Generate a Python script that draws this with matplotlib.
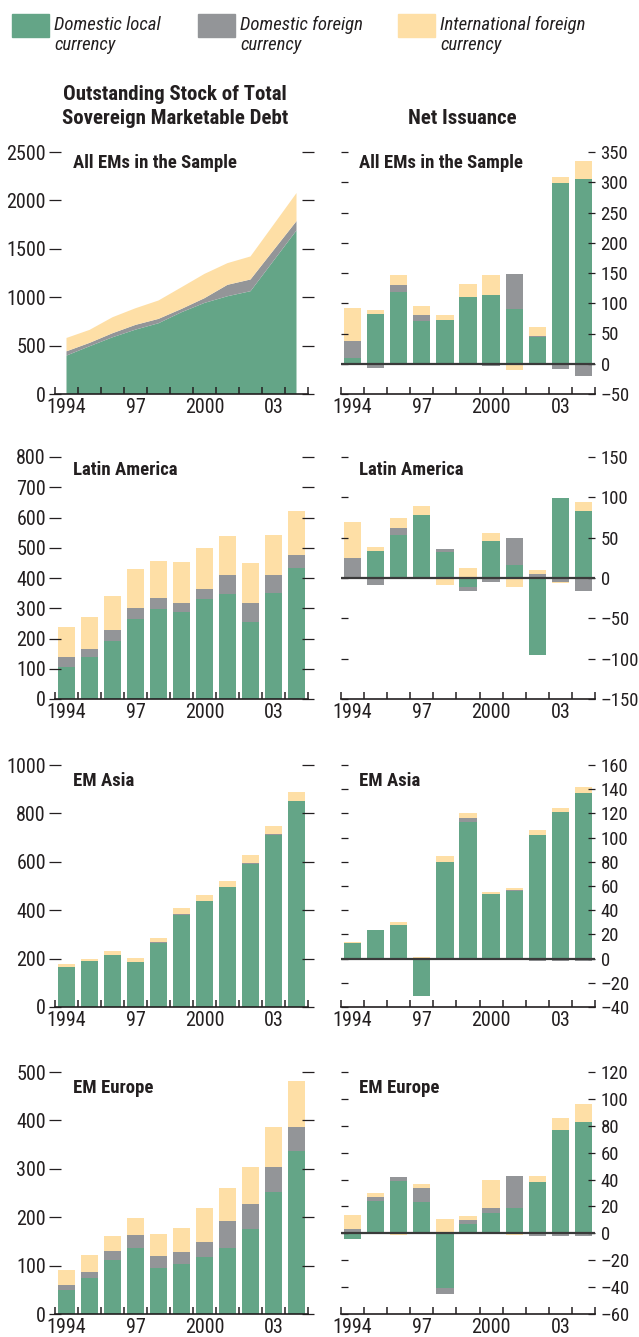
import matplotlib
matplotlib.use("Agg")
import matplotlib.pyplot as plt
from matplotlib import font_manager
from matplotlib.patches import Rectangle
from matplotlib.ticker import FuncFormatter
import numpy as np

# pick a narrow sans if one is around, otherwise a plain Arial-like one
font_names = {(f.name, f.stretch) for f in font_manager.fontManager.ttflist}
names_only = {n for n, _ in font_names}
narrow = None
for cand in ["Liberation Sans Narrow", "Roboto Condensed", "DejaVu Sans Condensed",
             "Open Sans Condensed"]:
    if cand in names_only:
        narrow = cand
        break
if narrow is None:
    for n, st in font_names:
        if st in ("condensed", "semi-condensed", 87.5, 75) and n in (
                "DejaVu Sans", "Liberation Sans", "Noto Sans", "Open Sans"):
            narrow = n
            break
if narrow is not None:
    plt.rcParams["font.family"] = [narrow, "DejaVu Sans"]
    plt.rcParams["font.stretch"] = "condensed"
    fs = 1.0
else:
    plt.rcParams["font.family"] = ["Liberation Sans", "DejaVu Sans"]
    fs = 0.86

years = np.arange(1994, 2005)
year_ticks = [1994, 1997, 2000, 2003]
year_labels = ["1994", "97", "2000", "03"]

series_names = ["Domestic local\ncurrency", "Domestic foreign\ncurrency",
                "International foreign\ncurrency"]
colors = ["#64a587", "#939598", "#fedfa6"]
ink = "#231f20"

# outstanding stock (billions of US$), one list per currency type
all_local = [397, 493, 586, 665, 731, 845, 941, 1010, 1062, 1376, 1690]
all_dfx = [44, 35, 42, 49, 45, 34, 49, 118, 121, 109, 96]
all_intl = [138, 134, 165, 172, 190, 224, 251, 224, 238, 263, 290]

lat_local = [105, 138, 192, 266, 299, 289, 332, 348, 253, 352, 434]
lat_dfx = [33, 26, 35, 36, 36, 30, 30, 63, 66, 59, 43]
lat_intl = [99, 106, 115, 129, 122, 135, 138, 128, 131, 131, 144]

asia_local = [164, 189, 214, 185, 265, 382, 436, 494, 592, 712, 850]
asia_dfx = [1, 0, 0, 0, 3, 3, 3, 3, 2, 2, 2]
asia_intl = [12, 8, 16, 16, 16, 23, 23, 23, 34, 34, 36]

eur_local = [50, 74, 111, 136, 95, 103, 118, 136, 175, 252, 336]
eur_dfx = [10, 13, 19, 27, 25, 25, 31, 56, 52, 51, 50]
eur_intl = [31, 35, 31, 35, 45, 49, 70, 68, 76, 83, 95]

# net issuance (billions of US$)
all_net_local = [9, 83, 119, 71, 73, 111, 114, 91, 45, 298, 305]
all_net_dfx = [29, -7, 11, 10, 0, 0, -3, 58, 1, -8, -20]
all_net_intl = [54, 6, 16, 15, 7, 20, 33, -11, 14, 10, 30]

lat_net_local = [0, 34, 53, 78, 32, -11, 46, 16, -96, 99, 83]
lat_net_dfx = [25, -9, 9, -1, 4, -5, -5, 33, 5, -5, -16]
lat_net_intl = [44, 4, 12, 11, -9, 12, 10, -11, 5, -1, 11]

asia_net_local = [13, 24, 28, -31, 80, 113, 53, 56, 102, 121, 137]
asia_net_dfx = [0, 0, 0, 0, 0, 3, 0, 0.5, -2, -2, -2]
asia_net_intl = [1, 0, 2.5, 1.4, 5, 4, 1.7, 2, 4, 3.5, 5]

eur_net_local = [-4, 24, 39, 23, -41, 7, 15, 19, 38, 77, 83]
eur_net_dfx = [3, 3, 3, 11, -4, 3, 4, 24, -2, -2, -2]
eur_net_intl = [11, 3, -1.5, 3, 11, 3, 21, -1.5, 5, 9, 13]

panels = [
    ("All EMs in the Sample", (all_local, all_dfx, all_intl),
     (all_net_local, all_net_dfx, all_net_intl),
     (0, 2500, 500), (-50, 350, 50), "area"),
    ("Latin America", (lat_local, lat_dfx, lat_intl),
     (lat_net_local, lat_net_dfx, lat_net_intl),
     (0, 800, 100), (-150, 150, 50), "bar"),
    ("EM Asia", (asia_local, asia_dfx, asia_intl),
     (asia_net_local, asia_net_dfx, asia_net_intl),
     (0, 1000, 200), (-40, 160, 20), "bar"),
    ("EM Europe", (eur_local, eur_dfx, eur_intl),
     (eur_net_local, eur_net_dfx, eur_net_intl),
     (0, 500, 100), (-60, 120, 20), "bar"),
]

W, H = 639, 1337
fig = plt.figure(figsize=(W / 100, H / 100), dpi=100)

row_tops = [152, 457, 765, 1072]
title_offsets = [11, 13, 16, 16]
row_h = 242
left_x, left_w = 55, 253
right_x, right_w = 341, 254

dash_fmt = FuncFormatter(lambda v, _: f"{v:g}".replace("-", "\u2013"))


def px_axes(x, top, w, h):
    return fig.add_axes([x / W, 1 - (top + h) / H, w / W, h / H])


def style_axes(ax, ylim, left_labels):
    ax.set_xlim(1993.5, 2004.5)
    ax.set_ylim(ylim[0], ylim[1])
    ax.set_yticks(np.arange(ylim[0], ylim[1] + 0.1, ylim[2]))
    ax.yaxis.set_major_formatter(dash_fmt)
    ax.set_xticks(year_ticks)
    ax.set_xticklabels(year_labels)
    ax.set_xticks(np.arange(1993.5, 2005, 1), minor=True)
    for s in ["left", "right", "top"]:
        ax.spines[s].set_visible(False)
    ax.spines["bottom"].set_color(ink)
    ax.spines["bottom"].set_linewidth(1.2)
    ax.tick_params(axis="x", which="major", length=0, pad=3,
                   labelsize=14.5 * fs, labelcolor=ink)
    ax.tick_params(axis="x", which="minor", direction="in", length=5,
                   width=1.1, color=ink)
    ax.tick_params(axis="y", left=True, right=True, direction="in",
                   length=5, width=0.9, color=ink, labelcolor=ink,
                   labelleft=left_labels, labelright=not left_labels)
    if left_labels:
        ax.tick_params(axis="y", which="major", left=True,
                       direction="inout", length=9, pad=2,
                       labelsize=14.5 * fs)
    else:
        ax.tick_params(axis="y", pad=4, labelsize=13.5 * fs)


def stacked_bars(ax, parts, width):
    pos = np.zeros(len(years))
    neg = np.zeros(len(years))
    for vals, c in zip(parts, colors):
        v = np.array(vals, dtype=float)
        bottom = np.where(v >= 0, pos, neg)
        ax.bar(years, v, width=width, bottom=bottom, color=c, linewidth=0)
        pos = pos + np.where(v >= 0, v, 0)
        neg = neg + np.where(v < 0, v, 0)


for i, (name, stock, net, ylim_s, ylim_n, kind) in enumerate(panels):
    top = row_tops[i]
    ty = 1 - title_offsets[i] / row_h

    ax = px_axes(left_x, top, left_w, row_h)
    if kind == "area":
        ax.stackplot(years, *stock, colors=colors, linewidth=0)
    else:
        stacked_bars(ax, stock, 0.75)
    style_axes(ax, ylim_s, True)
    ax.text(0.07, ty, name, transform=ax.transAxes, fontsize=13.5 * fs,
            fontweight="bold", color=ink, va="center", ha="left")

    ax2 = px_axes(right_x, top, right_w, row_h)
    stacked_bars(ax2, net, 0.75)
    ax2.axhline(0, color="#3a3a3a", linewidth=1.6)
    style_axes(ax2, ylim_n, False)
    ax2.text(0.07, ty, name, transform=ax2.transAxes, fontsize=13.5 * fs,
             fontweight="bold", color=ink, va="center", ha="left")

# column headers
fig.text(175 / W, 1 - 95 / H, "Outstanding Stock of Total", ha="center",
         va="center", fontsize=15 * fs, fontweight="bold", color=ink)
fig.text(175 / W, 1 - 118 / H, "Sovereign Marketable Debt", ha="center",
         va="center", fontsize=15 * fs, fontweight="bold", color=ink)
fig.text(462 / W, 1 - 118 / H, "Net Issuance", ha="center",
         va="center", fontsize=15 * fs, fontweight="bold", color=ink)

# legend
leg_x = [12, 198, 398]
for x, label, c in zip(leg_x, series_names, colors):
    fig.patches.append(Rectangle((x / W, 1 - 37 / H), 37 / W, 23 / H,
                                 transform=fig.transFigure, color=c))
    fig.text((x + 42) / W, 1 - 16 / H, label, ha="left", va="top",
             fontsize=13.5 * fs, style="italic", color=ink, linespacing=1.15)

fig.savefig("out.png", dpi=100)
